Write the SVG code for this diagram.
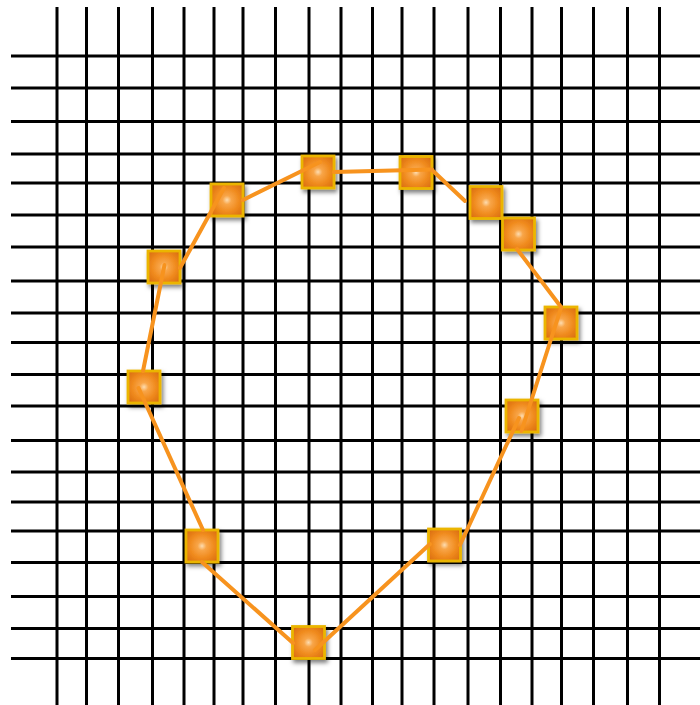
<svg xmlns="http://www.w3.org/2000/svg" width="700" height="705" viewBox="0 0 700 705">
<defs>
<radialGradient id="g" cx="50%" cy="50%" r="62%">
<stop offset="0" stop-color="#FDDCB0"/>
<stop offset="0.22" stop-color="#F8A548"/>
<stop offset="0.6" stop-color="#F08B1E"/>
<stop offset="1" stop-color="#DC7010"/>
</radialGradient>
<filter id="sh" x="-30%" y="-30%" width="170%" height="170%">
<feDropShadow dx="2" dy="3" stdDeviation="2" flood-color="#000" flood-opacity="0.5"/>
</filter>
</defs>
<style>
.grid line{stroke:#000;stroke-width:3}
.node rect{fill:url(#g);stroke:#EBB500;stroke-width:2.8;filter:url(#sh)}
.conn line{stroke:#F7931E;stroke-width:4;stroke-linecap:round}
</style>
<rect width="700" height="705" fill="#fff"/>
<g class="grid">
<line x1="57" y1="7" x2="57" y2="705"/>
<line x1="86.5" y1="7" x2="86.5" y2="705"/>
<line x1="118.5" y1="7" x2="118.5" y2="705"/>
<line x1="152.5" y1="7" x2="152.5" y2="705"/>
<line x1="184" y1="7" x2="184" y2="705"/>
<line x1="214" y1="7" x2="214" y2="705"/>
<line x1="243" y1="7" x2="243" y2="705"/>
<line x1="275.5" y1="7" x2="275.5" y2="705"/>
<line x1="309" y1="7" x2="309" y2="705"/>
<line x1="341" y1="7" x2="341" y2="705"/>
<line x1="372.5" y1="7" x2="372.5" y2="705"/>
<line x1="402" y1="7" x2="402" y2="705"/>
<line x1="434" y1="7" x2="434" y2="705"/>
<line x1="468" y1="7" x2="468" y2="705"/>
<line x1="500.5" y1="7" x2="500.5" y2="705"/>
<line x1="532" y1="7" x2="532" y2="705"/>
<line x1="561.5" y1="7" x2="561.5" y2="705"/>
<line x1="593.5" y1="7" x2="593.5" y2="705"/>
<line x1="627.5" y1="7" x2="627.5" y2="705"/>
<line x1="659.5" y1="7" x2="659.5" y2="705"/>
<line x1="11" y1="56" x2="700" y2="56"/>
<line x1="11" y1="88" x2="700" y2="88"/>
<line x1="11" y1="121.5" x2="700" y2="121.5"/>
<line x1="11" y1="154" x2="700" y2="154"/>
<line x1="11" y1="183" x2="700" y2="183"/>
<line x1="11" y1="215" x2="700" y2="215"/>
<line x1="11" y1="247" x2="700" y2="247"/>
<line x1="11" y1="281" x2="700" y2="281"/>
<line x1="11" y1="313" x2="700" y2="313"/>
<line x1="11" y1="342.5" x2="700" y2="342.5"/>
<line x1="11" y1="374.5" x2="700" y2="374.5"/>
<line x1="11" y1="406" x2="700" y2="406"/>
<line x1="11" y1="440.5" x2="700" y2="440.5"/>
<line x1="11" y1="472" x2="700" y2="472"/>
<line x1="11" y1="502" x2="700" y2="502"/>
<line x1="11" y1="531" x2="700" y2="531"/>
<line x1="11" y1="562.5" x2="700" y2="562.5"/>
<line x1="11" y1="596.5" x2="700" y2="596.5"/>
<line x1="11" y1="628.5" x2="700" y2="628.5"/>
<line x1="11" y1="658.5" x2="700" y2="658.5"/>
</g>
<g id="n1" class="node"><rect x="211" y="184" width="32" height="32"/></g>
<g id="n2" class="node"><rect x="302" y="156" width="32" height="32"/></g>
<g id="n3" class="node"><rect x="400" y="156.5" width="32" height="32"/></g>
<g id="n4" class="node"><rect x="470" y="186.5" width="32" height="32"/></g>
<g id="n5" class="node"><rect x="502.5" y="218" width="32" height="32"/></g>
<g id="n6" class="node"><rect x="545" y="307" width="32" height="32"/></g>
<g id="n7" class="node"><rect x="506" y="400" width="32" height="32"/></g>
<g id="n8" class="node"><rect x="428.5" y="529" width="32" height="32"/></g>
<g id="n9" class="node"><rect x="292.5" y="626.5" width="32" height="32"/></g>
<g id="n10" class="node"><rect x="186" y="530" width="32" height="32"/></g>
<g id="n11" class="node"><rect x="128" y="371" width="32" height="32"/></g>
<g id="n12" class="node"><rect x="148" y="251" width="32" height="32"/></g>
<g class="conn" id="connectors">
<line x1="180" y1="268" x2="224" y2="188"/>
<line x1="243" y1="200" x2="320" y2="162"/>
<line x1="334" y1="172" x2="432" y2="169.5"/>
<line x1="432" y1="170" x2="465" y2="201"/>
<line x1="517" y1="249" x2="561" y2="307"/>
<line x1="561" y1="308" x2="521.5" y2="431"/>
<line x1="519" y1="418" x2="460" y2="545"/>
<line x1="430" y1="544" x2="315" y2="650"/>
<line x1="293" y1="643" x2="202" y2="562"/>
<line x1="203" y1="530" x2="138.5" y2="388"/>
<line x1="143" y1="371" x2="164.5" y2="265"/>
</g>
</svg>
